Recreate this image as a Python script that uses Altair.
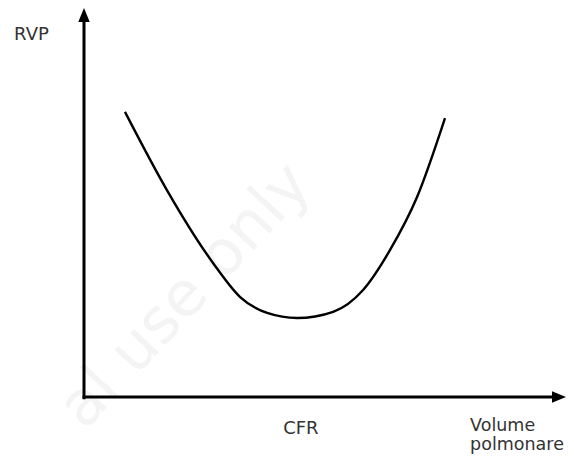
import altair as alt
import pandas as pd

# Curve (lung volume vs pulmonary vascular resistance), arbitrary units 0-100
curve_x = [8.5, 17.2, 26.8, 32.4, 38.0, 44.2, 51.7, 57.9, 63.5, 69.1, 74.9]
curve_y = [73.3, 53.2, 34.4, 25.7, 21.6, 20.3, 21.9, 27.5, 37.8, 51.4, 71.7]

y_title = "RVP"
x_mark_label = "CFR"
x_title_lines = ["Volume", "polmonare"]
watermark = "al use only"

FONT = "DejaVu Sans"
TXT = "#333333"

xs = alt.Scale(domain=[0, 100], nice=False, zero=False)
ys = alt.Scale(domain=[0, 100], nice=False, zero=False)

def X(v):
    return alt.X(datum=v, scale=xs, axis=None)

def Y(v):
    return alt.Y(datum=v, scale=ys, axis=None)

one = pd.DataFrame({"k": [0]})

wm = alt.Chart(one).mark_text(
    text=watermark, angle=313, fontSize=62, font=FONT, color="#f4f4f4"
).encode(x=X(21.0), y=Y(26.0))

curve = alt.Chart(pd.DataFrame({"x": curve_x, "y": curve_y})).mark_line(
    color="black", strokeWidth=2.4, interpolate="monotone"
).encode(
    x=alt.X("x:Q", scale=xs, axis=None),
    y=alt.Y("y:Q", scale=ys, axis=None),
)

yaxis = alt.Chart(one).mark_rule(color="black", strokeWidth=3).encode(
    x=X(0), y=Y(-0.6), y2=alt.Y2(datum=97)
)
xaxis = alt.Chart(one).mark_rule(color="black", strokeWidth=3).encode(
    y=Y(0), x=X(-0.3), x2=alt.X2(datum=97.5)
)

up_arrow = alt.Chart(one).mark_point(
    shape="M0,0 L-0.82,2 L0.82,2 Z", filled=True, size=196, color="black",
    opacity=1, strokeWidth=0
).encode(x=X(0), y=Y(100))
right_arrow = alt.Chart(one).mark_point(
    shape="M0,0 L-2,-0.82 L-2,0.82 Z", filled=True, size=196, color="black",
    opacity=1, strokeWidth=0
).encode(x=X(100), y=Y(0))

ylab = alt.Chart(one).mark_text(
    text=y_title, fontSize=18, font=FONT, color=TXT
).encode(x=X(-10.9), y=Y(93.1))

cfr = alt.Chart(one).mark_text(
    text=x_mark_label, fontSize=18, font=FONT, color=TXT, baseline="alphabetic"
).encode(x=X(45.0), y=Y(-9.5))

vol1 = alt.Chart(one).mark_text(
    text=x_title_lines[0], fontSize=17.5, font=FONT, color=TXT, align="left",
    baseline="alphabetic"
).encode(x=X(80.1), y=Y(-8.74))
vol2 = alt.Chart(one).mark_text(
    text=x_title_lines[1], fontSize=17.5, font=FONT, color=TXT, align="left",
    baseline="alphabetic"
).encode(x=X(80.1), y=Y(-13.6))

chart = alt.layer(
    wm, yaxis, xaxis, up_arrow, right_arrow, curve, ylab, cfr, vol1, vol2
).properties(
    width=482, height=389,
    padding={"left": 76, "top": 0, "right": 0, "bottom": 57},
    autosize=alt.AutoSizeParams(type="none"),
    background="white",
).configure_view(stroke=None)

chart.save("out.html", embed_options={"renderer": "svg", "actions": False})
